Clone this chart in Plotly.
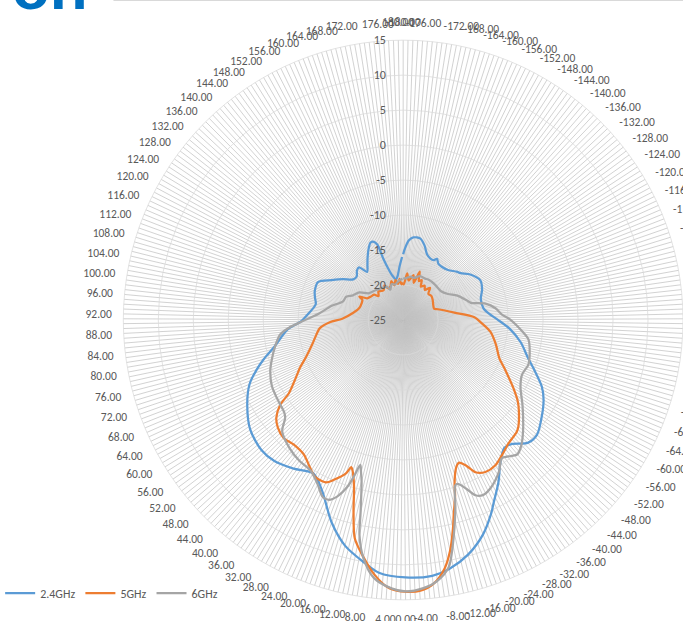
import plotly.graph_objects as go

# ---- categories (degrees) and tick labels ----
categories = [f"{a:.2f}" for a in range(-180, 181)]
tick_labels = [c if i % 4 == 0 else "" for i, c in enumerate(categories)]
radial_ticks = [-25, -20, -15, -10, -5, 0, 5, 10, 15]

# ---- 2.4GHz ----
angles_24 = [-180, -179, -176, -173, -168, -164, -160, -156, -153, -151, -148, -144, -138, -132, -129,
             -124, -117, -111, -105, -98, -94, -90, -85, -79, -73, -69, -64, -60, -54, -49, -45, -41,
             -38, -34, -30, -26, -24, -20, -15, -10, -6, 0, 6, 10, 15, 20, 26, 31, 37, 43, 48, 55, 62,
             68, 72, 75, 79, 86, 90, 95, 101, 105, 109, 115, 120, 125, 130, 134, 138, 141, 144, 148,
             151, 155, 158, 160, 162, 163, 165, 167, 171, 174, 177, 180]
gain_24 = [-15.6, -15.0, -13.6, -13.1, -13.1, -13.9, -15.0, -15.4, -15.4, -15.0, -15.5, -15.6, -15.4,
           -14.7, -14.4, -13.4, -12.6, -12.9, -13.5, -13.4, -12.7, -11.5, -9.7, -7.9, -6.4, -5.0, -3.0,
           -1.9, -0.7, 0.2, 0.0, -1.4, -1.7, -0.4, 1.9, 4.1, 5.4, 7.7, 9.8, 11.2, 11.8, 11.8, 11.3,
           10.0, 8.3, 5.7, 2.0, 0.4, 1.4, 2.3, 2.5, 1.9, 0.4, -1.2, -2.9, -4.3, -6.2, -8.4, -10.4,
           -11.5, -12.3, -12.0, -11.7, -11.7, -13.3, -14.6, -15.8, -15.9, -15.3, -15.2, -16.4, -15.6,
           -14.8, -13.7, -13.0, -13.0, -13.6, -15.8, -17.5, -18.4, -19.1, -18.6, -17.4, -16.0]

# ---- 5GHz ----
angles_5 = [-180, -179, -175, -172, -167, -164, -161, -158, -155, -152, -148, -144, -140, -136, -130,
            -124, -116, -110, -107, -98, -92, -88, -82, -75, -68, -64, -58, -54, -50, -47, -45, -40,
            -37, -32, -28, -25, -23, -21, -20, -19, -17, -16, -14, -13, -11, -9, -6, -3, 1, 4, 7, 10,
            13, 15, 17, 19, 20, 21, 24, 26, 30, 33, 37, 42, 46, 50, 53, 56, 58, 63, 66, 70, 76, 81,
            85, 89, 92, 99, 106, 113, 117, 119, 122, 127, 132, 135, 140, 144, 148, 152, 156, 160, 164,
            167, 170, 173, 176, 178, 180]
gain_5 = [-19.8, -19.9, -18.3, -19.3, -18.4, -19.5, -17.7, -19.0, -18.7, -19.6, -19.2, -19.7, -19.0,
          -19.8, -19.7, -19.9, -20.2, -20.3, -19.8, -17.6, -14.8, -13.9, -12.4, -11.3, -10.2, -8.9,
          -6.5, -4.8, -3.5, -2.6, -2.2, -1.8, -1.3, -0.4, -0.3, -0.9, -2.3, -3.1, -2.9, -2.4, -0.5,
          1.2, 3.9, 5.6, 8.7, 11.0, 13.0, 13.8, 13.8, 13.2, 11.6, 9.4, 7.0, 3.4, -0.2, -2.2, -2.7,
          -1.6, -0.1, 0.7, 0.7, -0.1, -1.1, -1.3, -1.0, -1.4, -2.1, -3.6, -5.6, -7.8, -8.8, -10.2,
          -11.6, -12.4, -13.0, -14.5, -16.3, -17.8, -18.5, -18.6, -18.5, -17.9, -19.0, -19.3, -19.5,
          -20.1, -19.6, -19.8, -19.9, -19.4, -20.0, -19.9, -19.2, -19.9, -19.2, -19.8, -19.1, -19.9,
          -19.6]

# ---- 6GHz ----
angles_6 = [-180, -176, -170, -166, -159, -152, -148, -138, -127, -120, -114, -107, -104, -101, -97,
            -93, -90, -84, -81, -75, -70, -65, -60, -54, -47, -43, -40, -38, -35, -32, -27, -24, -22,
            -20, -18, -17, -15, -12, -10, -7, -4, 0, 3, 7, 10, 12, 13, 15, 16, 17, 18, 19, 21, 23, 25,
            28, 32, 37, 42, 48, 51, 53, 57, 64, 70, 74, 79, 84, 87, 90, 95, 102, 108, 113, 117, 123,
            129, 138, 147, 155, 158, 163, 168, 174, 180]
gain_6 = [-19.1, -19.0, -18.7, -18.8, -18.3, -18.3, -18.2, -18.2, -18.2, -17.6, -16.5, -15.5, -15.0,
          -13.0, -11.7, -10.9, -9.7, -7.8, -6.9, -6.3, -6.0, -6.3, -5.7, -4.0, -1.7, -0.4, 0.2, -0.2,
          -0.7, 0.6, 2.1, 2.5, 2.1, 0.7, -0.3, -0.2, 3.0, 7.9, 10.9, 12.6, 13.4, 13.8, 13.4, 12.1,
          9.5, 6.4, 3.2, -1.2, -2.4, -3.4, -1.6, 0.1, 1.9, 2.8, 2.8, 1.5, 0.3, 0.0, -0.5, -1.5, -3.1,
          -3.5, -3.7, -4.0, -4.7, -5.4, -6.3, -7.3, -8.7, -10.6, -12.9, -14.6, -16.0, -16.2, -17.0,
          -17.6, -18.8, -19.2, -19.5, -19.7, -20.3, -19.6, -19.8, -19.4, -19.1]

series = [
    ("2.4GHz", angles_24, gain_24, "#5B9BD5"),
    ("5GHz", angles_5, gain_5, "#ED7D31"),
    ("6GHz", angles_6, gain_6, "#A5A5A5"),
]

FONT = "Carlito, Lato, 'Liberation Sans', sans-serif"
RING = "#D9D9D9"
SPOKE = "#C3C3C3"
TXT = "#595959"
# trailing spacing keeps the value-axis labels just left of the vertical spoke
PAD = "\u2007\u2007\u2006"

radial_text = [str(v) + PAD for v in radial_ticks]

fig = go.Figure()
for name, ang, val, col in series:
    fig.add_trace(go.Scatterpolar(
        theta=[f"{a:.2f}" for a in ang], r=val, name=name, mode="lines",
        line=dict(color=col, width=2.25, shape="spline", smoothing=0.8),
        hoverinfo="skip"))

W, H = 683, 621
cx_l, cx_r = 115, 683
cy_t, cy_b = 35, 605

fig.update_layout(
    width=W, height=H,
    margin=dict(l=0, r=0, t=0, b=0, pad=0),
    paper_bgcolor="white",
    font=dict(family=FONT, color=TXT, size=12),
    polar=dict(
        domain=dict(x=[cx_l / W, cx_r / W], y=[1 - cy_b / H, 1 - cy_t / H]),
        bgcolor="white",
        angularaxis=dict(
            type="category", categoryorder="array", categoryarray=categories,
            direction="clockwise", rotation=90,
            tickmode="array", tickvals=categories, ticktext=tick_labels,
            showgrid=True, gridcolor=SPOKE, gridwidth=0.75,
            showline=True, linecolor=RING, linewidth=0.75,
            ticks="outside", ticklen=9, tickcolor="rgba(0,0,0,0)",
            tickfont=dict(size=11.5, color=TXT, family=FONT),
        ),
        radialaxis=dict(
            range=[-25, 15], tickmode="array", tickvals=radial_ticks,
            ticktext=radial_text,
            angle=90, side="counterclockwise", tickangle=90,
            showline=False, ticks="",
            showgrid=True, gridcolor=RING, gridwidth=0.75,
            tickfont=dict(size=12, color=TXT, family=FONT),
        ),
    ),
    showlegend=True,
    legend=dict(orientation="h", x=-10 / W, y=1 - 593 / H, xanchor="left", yanchor="middle",
                font=dict(size=12, color=TXT, family=FONT), bgcolor="rgba(0,0,0,0)",
                itemwidth=30, tracegroupgap=0),
    shapes=[dict(type="line", xref="paper", yref="paper", x0=105 / W, x1=1,
                 y0=1 - 0.5 / H, y1=1 - 0.5 / H, line=dict(color="#D9D9D9", width=1))],
    annotations=[dict(text="<b>on</b>", xref="paper", yref="paper", x=0.0, y=1 - 24 / H,
                      xanchor="left", yanchor="bottom", showarrow=False,
                      font=dict(size=62, color="#0070C0", family="Liberation Sans"))],
)

fig.write_html("out.html",
               config={"displayModeBar": False, "staticPlot": True},
               post_script="document.body.style.margin='0px';"
                           "document.body.style.overflow='hidden';")
